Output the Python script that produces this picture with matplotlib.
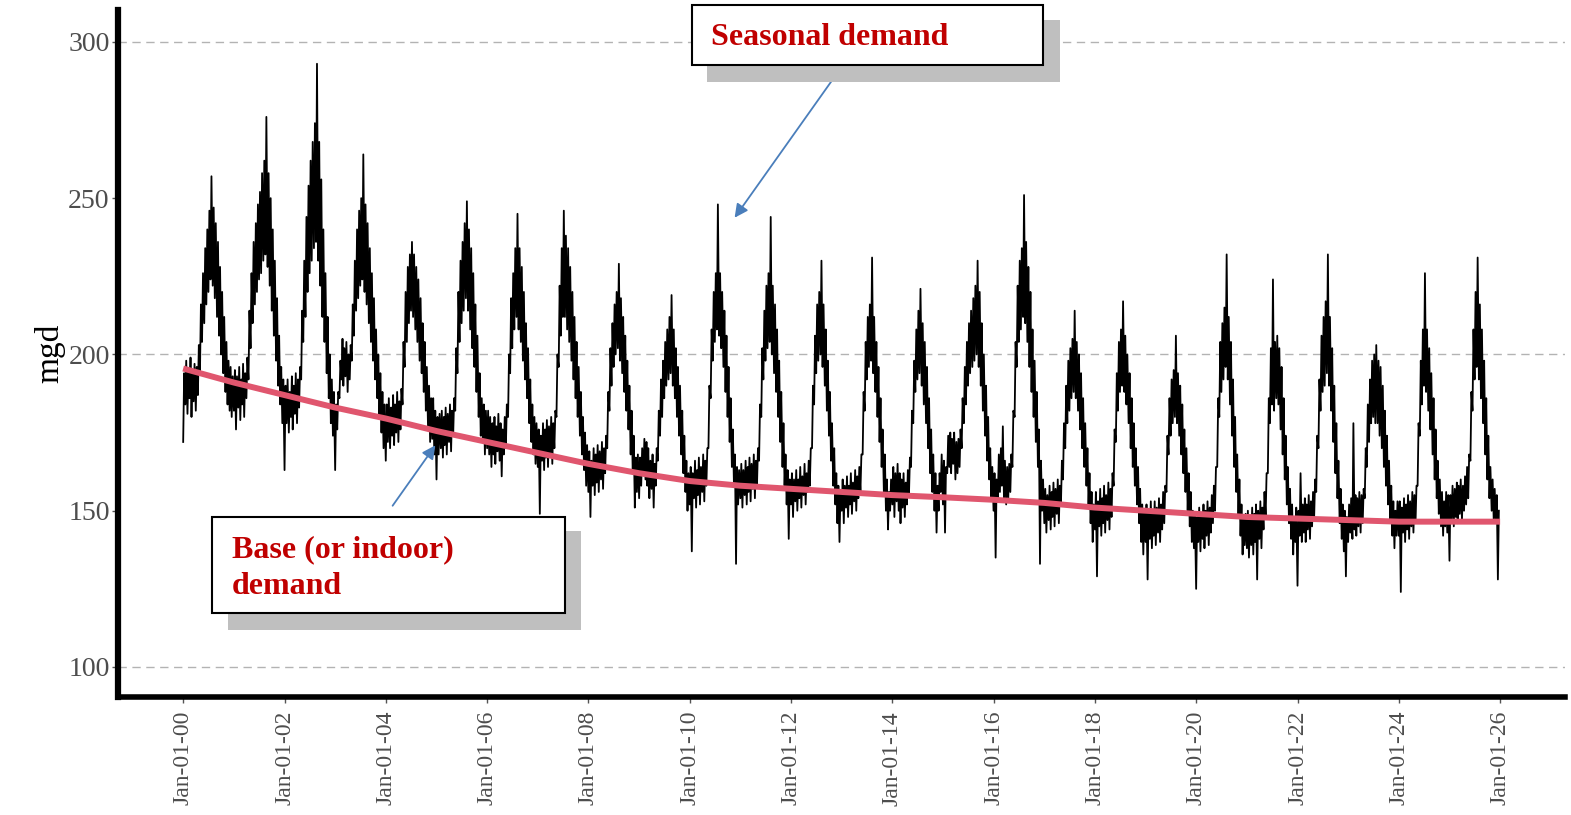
import datetime as dt
import matplotlib
matplotlib.use("Agg")
import matplotlib.pyplot as plt
import matplotlib.dates as mdates
from matplotlib.patches import Rectangle

plt.rcParams['font.family'] = ['Liberation Serif', 'DejaVu Serif']

# demand (mgd), 4 readings a month (days 1, 8, 16, 23)
demand_2000 = [172, 194, 184, 198, 181, 195, 186, 199, 180, 194, 185, 197, 182, 196, 187, 203, 194, 216, 204, 226, 210, 234, 216, 240,
               220, 246, 224, 257, 222, 247, 218, 242, 212, 236, 206, 228, 200, 220, 194, 212, 188, 204, 184, 198, 182, 196, 180, 193]
demand_2001 = [182, 195, 176, 193, 183, 196, 179, 192, 184, 197, 180, 194, 186, 199, 192, 214, 202, 226, 210, 236, 216, 242, 220, 248,
               224, 252, 226, 258, 230, 262, 232, 276, 228, 258, 222, 250, 214, 240, 206, 230, 198, 218, 190, 206, 184, 196, 178, 192]
demand_2002 = [163, 190, 178, 192, 175, 188, 180, 193, 176, 190, 181, 194, 178, 192, 183, 196, 192, 214, 204, 230, 212, 244, 220, 254,
               226, 262, 230, 268, 234, 274, 236, 293, 230, 268, 222, 256, 212, 240, 204, 226, 194, 212, 186, 200, 178, 192, 174, 188]
demand_2003 = [163, 184, 176, 188, 186, 198, 192, 205, 190, 202, 193, 204, 188, 200, 192, 203, 198, 216, 206, 230, 214, 240, 218, 246,
               222, 250, 224, 264, 220, 248, 216, 242, 210, 234, 204, 226, 198, 218, 192, 208, 186, 200, 180, 194, 175, 188, 170, 184]
demand_2004 = [166, 184, 172, 186, 170, 183, 174, 187, 171, 184, 175, 188, 172, 185, 176, 189, 184, 204, 196, 220, 204, 228, 210, 232,
               214, 236, 212, 232, 208, 228, 204, 224, 198, 218, 194, 210, 188, 204, 182, 196, 176, 190, 172, 186, 173, 186, 168, 182]
demand_2005 = [160, 180, 168, 181, 170, 182, 167, 180, 171, 183, 168, 181, 172, 184, 169, 182, 174, 186, 182, 202, 194, 220, 204, 230,
               210, 236, 214, 242, 218, 249, 214, 240, 208, 234, 202, 226, 196, 216, 188, 206, 180, 194, 174, 186, 172, 184, 168, 182]
demand_2006 = [170, 182, 168, 180, 164, 178, 168, 180, 165, 177, 169, 181, 166, 178, 161, 176, 168, 180, 170, 184, 180, 200, 194, 218,
               202, 226, 208, 234, 212, 245, 208, 234, 204, 228, 198, 220, 192, 210, 186, 202, 178, 192, 172, 184, 168, 180, 165, 178]
demand_2007 = [164, 176, 149, 174, 166, 178, 163, 176, 167, 179, 164, 177, 168, 180, 165, 178, 170, 182, 180, 200, 196, 222, 206, 234,
               212, 246, 212, 238, 208, 234, 204, 228, 198, 220, 192, 212, 186, 204, 180, 196, 174, 188, 168, 180, 163, 175, 158, 171]
demand_2008 = [156, 169, 148, 166, 158, 170, 155, 168, 159, 171, 156, 169, 160, 172, 157, 170, 162, 174, 170, 188, 182, 202, 190, 210,
               196, 216, 200, 220, 202, 229, 198, 218, 194, 212, 188, 206, 182, 198, 176, 190, 168, 182, 162, 174, 151, 167, 156, 168]
demand_2009 = [154, 167, 158, 170, 162, 173, 160, 172, 158, 170, 154, 166, 157, 168, 151, 165, 158, 170, 166, 182, 174, 192, 180, 198,
               186, 204, 190, 208, 192, 212, 194, 219, 190, 208, 186, 202, 180, 196, 174, 190, 168, 182, 162, 174, 156, 166, 150, 162]
demand_2010 = [152, 164, 137, 162, 154, 166, 151, 163, 155, 167, 152, 164, 156, 168, 153, 166, 158, 170, 170, 190, 186, 208, 198, 220,
               204, 226, 208, 248, 206, 226, 202, 220, 196, 214, 188, 206, 180, 196, 172, 186, 164, 176, 158, 168, 133, 164, 152, 163]
demand_2011 = [154, 165, 151, 163, 155, 166, 152, 164, 156, 167, 153, 165, 157, 168, 154, 166, 158, 170, 166, 184, 180, 202, 192, 214,
               198, 222, 202, 226, 204, 244, 200, 222, 194, 216, 188, 208, 180, 198, 172, 188, 164, 178, 158, 168, 152, 163, 141, 160]
demand_2012 = [152, 162, 148, 160, 153, 163, 150, 160, 154, 164, 151, 161, 155, 165, 152, 162, 156, 166, 158, 170, 170, 190, 184, 206,
               194, 216, 198, 220, 200, 230, 196, 216, 190, 208, 182, 198, 174, 188, 166, 178, 158, 170, 152, 162, 146, 158, 140, 156]
demand_2013 = [150, 160, 146, 158, 151, 161, 148, 158, 152, 162, 149, 159, 153, 163, 150, 161, 154, 164, 156, 168, 168, 188, 182, 204,
               192, 212, 196, 216, 198, 231, 194, 212, 188, 204, 180, 196, 172, 186, 164, 176, 156, 168, 150, 160, 144, 156, 150, 160]
demand_2014 = [152, 164, 148, 162, 153, 165, 150, 162, 146, 160, 151, 162, 148, 159, 152, 163, 155, 167, 164, 182, 178, 198, 188, 208,
               192, 214, 194, 221, 190, 210, 184, 204, 178, 196, 170, 186, 162, 176, 156, 168, 150, 162, 143, 158, 150, 162, 156, 168]
demand_2015 = [152, 166, 143, 164, 162, 174, 164, 175, 162, 173, 165, 175, 160, 172, 162, 173, 164, 176, 170, 186, 178, 196, 184, 204,
               190, 210, 194, 214, 196, 218, 198, 222, 200, 230, 196, 220, 190, 210, 182, 200, 174, 190, 166, 180, 160, 170, 154, 164]
demand_2016 = [150, 162, 135, 160, 154, 168, 156, 170, 158, 177, 154, 166, 152, 164, 154, 165, 156, 168, 164, 182, 180, 204, 196, 222,
               204, 230, 208, 234, 212, 251, 210, 236, 204, 228, 196, 220, 188, 208, 180, 198, 172, 188, 164, 176, 133, 166, 150, 160]
demand_2017 = [146, 157, 143, 155, 147, 158, 144, 156, 148, 159, 145, 157, 149, 160, 146, 158, 152, 166, 160, 178, 170, 190, 178, 198,
               182, 202, 186, 205, 188, 214, 186, 204, 182, 200, 176, 194, 170, 186, 164, 178, 158, 170, 152, 162, 146, 156, 140, 152]
demand_2018 = [144, 156, 129, 153, 145, 157, 142, 154, 146, 158, 143, 155, 147, 159, 144, 157, 148, 162, 158, 176, 172, 194, 182, 204,
               188, 208, 190, 217, 188, 206, 184, 200, 178, 194, 170, 186, 164, 178, 158, 170, 152, 164, 146, 157, 140, 152, 136, 150]
demand_2019 = [140, 152, 128, 150, 141, 153, 138, 150, 142, 153, 139, 151, 143, 154, 140, 152, 144, 156, 146, 158, 156, 174, 168, 186,
               174, 192, 178, 195, 180, 206, 178, 194, 174, 190, 168, 184, 162, 176, 156, 170, 150, 162, 145, 156, 140, 150, 138, 149]
demand_2020 = [125, 148, 140, 151, 137, 149, 141, 152, 138, 150, 142, 153, 139, 151, 143, 155, 146, 158, 150, 164, 164, 186, 180, 204,
               188, 210, 192, 215, 196, 232, 192, 212, 184, 204, 174, 192, 164, 180, 156, 168, 148, 160, 142, 152, 136, 148, 139, 149]
demand_2021 = [138, 150, 135, 148, 139, 151, 136, 149, 140, 152, 128, 150, 141, 153, 138, 151, 144, 156, 148, 162, 162, 186, 178, 202,
               184, 224, 182, 204, 186, 206, 184, 202, 176, 196, 168, 186, 160, 174, 152, 164, 146, 157, 141, 152, 136, 148, 140, 151]
demand_2022 = [126, 150, 142, 162, 140, 152, 143, 154, 140, 152, 144, 155, 141, 153, 145, 156, 148, 160, 156, 174, 170, 192, 182, 206,
               188, 212, 190, 217, 194, 232, 190, 212, 182, 202, 172, 190, 162, 178, 154, 166, 146, 157, 141, 152, 137, 150, 129, 148]
demand_2023 = [140, 152, 143, 154, 141, 178, 144, 155, 142, 154, 145, 156, 143, 155, 146, 157, 154, 170, 164, 184, 172, 192, 178, 198,
               180, 200, 178, 203, 178, 198, 174, 196, 170, 190, 164, 182, 158, 174, 152, 166, 146, 158, 142, 153, 138, 150, 142, 153]
demand_2024 = [142, 153, 124, 151, 143, 154, 140, 152, 144, 155, 141, 153, 145, 156, 143, 155, 146, 158, 158, 178, 174, 198, 184, 208,
               190, 226, 188, 208, 182, 202, 176, 194, 168, 186, 160, 176, 154, 166, 149, 160, 145, 156, 142, 153, 145, 156, 143, 155]
demand_2025 = [134, 155, 147, 158, 145, 157, 148, 159, 146, 158, 149, 160, 147, 158, 150, 161, 152, 164, 154, 168, 166, 188, 182, 208,
               192, 220, 196, 231, 192, 216, 186, 208, 178, 198, 168, 186, 160, 174, 154, 164, 150, 160, 147, 157, 146, 155, 128, 150]

demand_by_year = {
    2000: demand_2000, 2001: demand_2001, 2002: demand_2002, 2003: demand_2003,
    2004: demand_2004, 2005: demand_2005, 2006: demand_2006, 2007: demand_2007,
    2008: demand_2008, 2009: demand_2009, 2010: demand_2010, 2011: demand_2011,
    2012: demand_2012, 2013: demand_2013, 2014: demand_2014, 2015: demand_2015,
    2016: demand_2016, 2017: demand_2017, 2018: demand_2018, 2019: demand_2019,
    2020: demand_2020, 2021: demand_2021, 2022: demand_2022, 2023: demand_2023,
    2024: demand_2024, 2025: demand_2025,
}
reading_days = [1, 8, 16, 23]

# smoothed base (indoor) demand, one value per Jan 1
base_years = list(range(2000, 2027))
base_demand = [195.5, 191, 187, 183, 179.5, 175.5, 172, 168.5, 165, 162, 159.5, 158, 157,
               156, 155, 154.3, 153.5, 152.5, 151, 150, 149, 148, 147.5, 147, 146.5, 146.5, 146.5]

grid_levels = [100, 200, 300]
y_ticks = [100, 150, 200, 250, 300]
tick_years = list(range(2000, 2027, 2))

dates = []
values = []
for yr, vals in demand_by_year.items():
    k = 0
    for m in range(1, 13):
        for d in reading_days:
            dates.append(dt.datetime(yr, m, d))
            values.append(vals[k])
            k += 1
base_dates = [dt.datetime(y, 1, 1) for y in base_years]

W, H = 1571, 815
fig = plt.figure(figsize=(W / 100, H / 100), dpi=100)
ax = fig.add_axes([118 / W, 1 - 697 / H, (1565 - 118) / W, (697 - 10) / H])

for g in grid_levels:
    ax.axhline(g, color='#b3b3b3', lw=1, ls=(0, (6, 4)), zorder=0)

ax.plot(dates, values, color='black', lw=1.3, zorder=2)
ax.plot(base_dates, base_demand, color='#e0566e', lw=4.3, zorder=3, solid_capstyle='butt')

ax.set_ylim(90.4, 310.2)
ax.set_xlim(mdates.date2num(dt.datetime(1998, 9, 18)), mdates.date2num(dt.datetime(2027, 4, 14)))
ax.set_yticks(y_ticks)
ax.set_xticks([mdates.date2num(dt.datetime(y, 1, 1)) for y in tick_years])
ax.xaxis.set_major_formatter(mdates.DateFormatter('%b-%d-%y'))

for s in ['top', 'right']:
    ax.spines[s].set_visible(False)
ax.spines['left'].set_linewidth(4.5)
ax.spines['bottom'].set_linewidth(4.0)
ax.tick_params(direction='out', length=4, width=1, color='#555555',
               labelcolor='#4d4d4d', pad=3)
ax.tick_params(axis='y', labelsize=20, pad=2)
ax.tick_params(axis='x', labelrotation=90, labelsize=17, pad=6)
ax.set_ylabel('mgd', fontsize=24, color='black', labelpad=2)


def fig_box(x0, y0, x1, y1, **kw):
    r = Rectangle((x0 / W, 1 - y1 / H), (x1 - x0) / W, (y1 - y0) / H,
                  transform=fig.transFigure, figure=fig, **kw)
    fig.add_artist(r)


red = '#c00000'
blue = '#4a7ebb'

# Seasonal demand call-out
fig_box(707, 20, 1060, 82, facecolor='#bfbfbf', edgecolor='none', zorder=5)
fig_box(692, 5, 1043, 65, facecolor='white', edgecolor='black', lw=1.5, zorder=6)
fig.text(711 / W, 1 - 45 / H, 'Seasonal demand', color=red, fontsize=23,
         fontweight='bold', va='baseline', zorder=7)
ax.annotate('', xy=(733, H - 220), xycoords='figure pixels',
            xytext=(838, H - 72), textcoords='figure pixels',
            arrowprops=dict(arrowstyle='-|>', color=blue, lw=1.3, mutation_scale=20),
            zorder=7)

# Base demand call-out
fig_box(228, 531, 581, 630, facecolor='#bfbfbf', edgecolor='none', zorder=5)
fig_box(212, 517, 565, 613, facecolor='white', edgecolor='black', lw=1.5, zorder=6)
fig.text(232 / W, 1 - 557 / H, 'Base (or indoor)', color=red, fontsize=23,
         fontweight='bold', va='baseline', zorder=7)
fig.text(232 / W, 1 - 594 / H, 'demand', color=red, fontsize=23,
         fontweight='bold', va='baseline', zorder=7)
ax.annotate('', xy=(437, H - 443), xycoords='figure pixels',
            xytext=(391, H - 508), textcoords='figure pixels',
            arrowprops=dict(arrowstyle='-|>', color=blue, lw=1.3, mutation_scale=20),
            zorder=7)

fig.savefig('out.png', dpi=100)
